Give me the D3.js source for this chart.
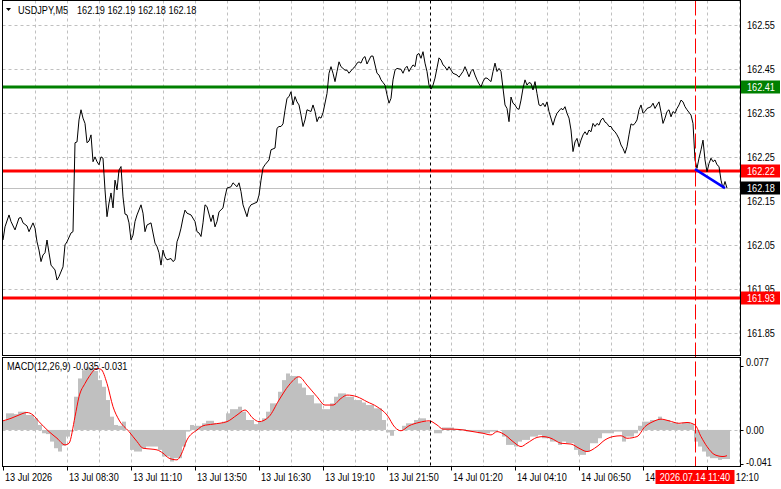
<!DOCTYPE html>
<html>
<head>
<meta charset="utf-8">
<script src="https://cdn.jsdelivr.net/npm/d3@7"></script>
<style>
  body { margin: 0; background: #fff; }
  svg { display: block; font-family: "Liberation Sans", Arial, sans-serif; }
</style>
</head>
<body>
<div id="chart"></div>
<script>
// USDJPY M5 close prices, keyed by bar index (bar 0 = first visible bar)
const priceBars = [0,1,3,4,6,8,9,10,12,13,15,16,17,18,19,20,21,22,23,24,26,27,28,30,31,32,34,35,36,37,38,39,40,41,42,43,44,45,46,47,48,49,50,
  51,52,53,54,55,56,57,58,59,60,61,62,63,64,65,66,67,69,70,71,72,74,76,77,78,79,80,81,82,84,85,86,87,88,89,90,91,92,94,96,97,98,99,100,
  101,102,104,105,106,107,108,110,111,112,114,115,117,118,119,120,122,123,124,126,127,128,129,130,131,133,134,136,137,138,139,140,
  141,142,143,144,145,146,147,148,149,150,151,152,154,155,156,157,158,159,160,162,163,164,165,166,167,168,169,171,172,173,175,176,177,178,179,180,
  181,182,183,184,185,187,188,189,190,191,192,193,194,195,196,197,199,200,201,202,203,204,205,206,207,208,209,210,211,212,213,214,215,216,217,218,219,220,
  221,222,223,225,227,228,230,231,232,233,234,235,236,237,238,239,240,241,242,244,245,246,247,248,249,250,251,252,253,254,255,256,257,258,259,260,
  261,262,263,264,265,266,267,268,269,270,271,272,273,275,276,277,279,280,281,282,283,284,285,286,287,288,289,290,291,292,293,294,295,296,297,298,299,300,
  301,302,303,304,305,306,307,308,309,310,311,312,313,314,315,316,317,318,319,320,321,322,324,325,326,327,328,329,330,331,332,333,334,335,336,337,338,339,340,
  341,342,344,345,346,347,348,349,350,351,352,353,354,355,356,357,358,359,360,361,362];
const priceClose = [162.062,162.092,162.119,162.104,162.085,162.112,162.113,162.101,162.094,162.081,162.101,162.089,162.058,162.039,162.013,162.028,162.033,162.062,162.033,162.005,161.994,161.971,161.979,162.001,162.051,162.058,162.078,162.081,162.283,162.285,162.335,162.358,162.339,162.327,162.283,162.287,162.301,162.240,162.251,162.240,162.233,162.251,162.248,
  162.176,162.115,162.146,162.169,162.135,162.198,162.176,162.221,162.229,162.160,162.121,162.119,162.101,162.062,162.073,162.104,162.119,162.142,162.123,162.081,162.096,162.101,162.055,162.047,162.033,162.005,162.039,162.024,162.017,162.020,162.013,162.017,162.058,162.071,162.089,162.112,162.130,162.123,162.119,162.104,162.081,162.078,162.070,162.101,
  162.142,162.138,162.104,162.119,162.092,162.104,162.126,162.135,162.160,162.180,162.183,162.192,162.183,162.192,162.172,162.142,162.115,162.135,162.142,162.146,162.148,162.164,162.198,162.226,162.233,162.244,162.267,162.271,162.316,162.320,162.320,162.326,
  162.357,162.384,162.388,162.399,162.369,162.388,162.376,162.369,162.346,162.320,162.335,162.358,162.354,162.369,162.354,162.331,162.342,162.339,162.351,162.395,162.441,162.456,162.441,162.422,162.445,162.467,162.456,162.448,162.448,162.441,162.452,162.456,162.464,162.467,162.464,162.475,
  162.479,162.462,162.471,162.480,162.480,162.441,162.437,162.426,162.420,162.414,162.392,162.373,162.384,162.426,162.448,162.452,162.450,162.441,162.452,162.457,162.445,162.453,162.460,162.456,162.483,162.486,162.475,162.490,162.464,162.445,162.414,162.405,162.414,162.430,162.453,162.476,162.471,162.460,
  162.456,162.448,162.456,162.441,162.437,162.432,162.445,162.456,162.445,162.433,162.445,162.450,162.437,162.426,162.417,162.410,162.422,162.430,162.430,162.422,162.445,162.464,162.445,162.452,162.445,162.407,162.369,162.361,162.331,162.387,162.373,162.369,162.361,162.359,162.380,162.407,
  162.426,162.414,162.420,162.418,162.403,162.422,162.395,162.369,162.367,162.373,162.365,162.376,162.354,162.323,162.339,162.350,162.361,162.358,162.365,162.350,162.339,162.312,162.263,162.285,162.293,162.274,162.289,162.301,162.308,162.301,162.312,162.308,162.327,162.320,162.327,162.323,162.335,162.339,
  162.330,162.327,162.320,162.320,162.312,162.308,162.301,162.292,162.278,162.270,162.259,162.274,162.301,162.326,162.323,162.327,162.335,162.358,162.369,162.350,162.354,162.361,162.365,162.373,162.361,162.369,162.376,162.353,162.327,162.339,162.354,162.358,162.342,162.354,162.350,162.361,162.369,162.380,162.376,
  162.365,162.358,162.346,162.327,162.244,162.225,162.248,162.267,162.289,162.244,162.217,162.236,162.248,162.240,162.244,162.233,162.229,162.198,162.180,162.195,162.180];

// MACD(12,26,9) main histogram, one value for every pair of bars (bars 0-1, 2-3, ...)
const macdHist = [0.011,0.020,0.020,0.019,0.022,0.022,0.018,0.018,0.014,0.006,-0.004,-0.005,-0.014,-0.022,-0.026,-0.019,-0.008,-0.002,0.040,0.062,
  0.072,0.076,0.075,0.071,0.060,0.052,0.036,0.016,0.006,0.005,0.010,0,-0.024,-0.026,-0.026,-0.022,-0.020,-0.020,-0.020,-0.024,
  -0.032,-0.032,-0.038,-0.034,-0.034,-0.020,-0.002,0.006,0.005,0.005,0.008,0.011,0.011,0.008,0.008,0.010,0.020,0.025,0.025,0.028,
  0.022,0.012,0.012,0.007,0.010,0.014,0.022,0.032,0.032,0.046,0.060,0.068,0.065,0.065,0.056,0.051,0.042,0.042,0.032,0.032,
  0.025,0.025,0.032,0.040,0.044,0.044,0.040,0.040,0.036,0.036,0.033,0.030,0.030,0.026,0.026,0.012,-0.003,-0.007,0,0,
  0.005,0.008,0.008,0.012,0.014,0.014,0.010,0,-0.004,-0.004,0.003,0.003,0.003,0.001,0.001,0.001,-0.002,-0.002,-0.002,-0.004,
  -0.004,-0.004,-0.002,-0.002,0,-0.008,-0.018,-0.018,-0.020,-0.014,-0.012,-0.012,-0.008,-0.008,-0.006,-0.010,-0.010,-0.014,-0.014,-0.018,
  -0.014,-0.016,-0.016,-0.024,-0.030,-0.030,-0.026,-0.016,-0.016,-0.010,-0.004,-0.004,-0.004,-0.002,-0.002,-0.014,-0.008,-0.008,-0.004,0.005,
  0.010,0.010,0.012,0.012,0.016,0.012,0.012,0.009,0.009,0.007,0.009,0.009,0.007,-0.014,-0.020,-0.026,-0.032,-0.034,-0.034,-0.036,
  -0.035,-0.035];

// MACD signal line
const signalBars = [0,4,8,12,15,18,23,27,31,33,36,38,41,43,47,49,52,55,58,63,67,70,74,77,80,83,87,89,92,97,100,105,112,117,121,125,128,133,138,143,
  148,152,157,161,165,169,172,177,182,187,192,196,199,203,208,213,217,220,225,230,235,240,244,247,251,255,259,262,267,270,274,279,284,288,292,297,
  301,305,309,312,317,321,325,329,333,338,342,346,349,352,356,360,362];
const signalValues = [0.011,0.014,0.018,0.021,0.018,0.010,-0.002,-0.010,-0.018,-0.016,0.016,0.040,0.056,0.064,0.074,0.073,0.056,0.028,0.012,-0.002,
  -0.014,-0.022,-0.023,-0.024,-0.028,-0.034,-0.036,-0.030,-0.012,0,0.005,0.007,0.010,0.018,0.024,0.014,0.010,0.016,0.036,0.054,
  0.064,0.054,0.040,0.030,0.030,0.038,0.042,0.040,0.034,0.028,0.018,0.003,-0.001,0.005,0.009,0.011,0.006,0.001,0.001,0,
  -0.002,-0.004,-0.006,-0.002,-0.006,-0.014,-0.020,-0.016,-0.009,-0.008,-0.010,-0.016,-0.017,-0.022,-0.026,-0.020,
  -0.012,-0.008,-0.007,-0.010,-0.008,0.004,0.010,0.013,0.011,0.008,0.009,0.006,-0.008,-0.020,-0.030,-0.032,-0.031];

const timeTickBars = [0,32,64,96,128,160,192,224,256,288,320,352];
const timeTickLabels = ['13 Jul 2026','13 Jul 08:30','13 Jul 11:10','13 Jul 13:50','13 Jul 16:30','13 Jul 19:10',
  '13 Jul 21:50','14 Jul 01:20','14 Jul 04:10','14 Jul 06:50','14 Jul 09:30','14 Jul 12:10'];
const priceTicks = [162.55,162.45,162.35,162.25,162.15,162.05,161.95,161.85];
const macdTicks = [0.077,0.00,-0.041];
const macdTickLabels = ['0.077','0.00','-0.041'];

const levelPrices = [162.41,162.22,161.93];
const bidPrice = 162.18;
const trendBars = [346,361];
const trendPrices = [162.223,162.180];
const markerBar = 346;      // red vertical line
const cursorBar = 213.5;    // black dotted line
const markerLabel = '2026.07.14 11:40';
const headerSymbol = 'USDJPY,M5';
const headerPrices = '162.19 162.19 162.18 162.18';
const macdTitle = 'MACD(12,26,9) -0.035 -0.031';

const levelColors = { 162.41: '#008000', 162.22: '#ff0000', 161.93: '#ff0000' };

const W = 781, H = 489;
const L = 2.5, R = 740.5;
const mainTop = 0.5, mainBottom = 355.5;
const macdTop = 357.5, macdBottom = 466.5;
const gridColor = '#c0c0c0';
const crisp = v => Math.round(v) + 0.5;

const svg = d3.select('#chart').append('svg')
  .attr('width', W).attr('height', H);

svg.append('rect').attr('width', W).attr('height', H).attr('fill', '#fff');

const x = d3.scaleLinear().domain([0, 368.5]).range([3, 740]);
const y = d3.scaleLinear().domain([161.85, 162.55]).range([333.3, 25.3]);
const ym = d3.scaleLinear().domain([-0.041, 0.077]).range([464, 366]);

// clip paths for panels
const defs = svg.append('defs');
defs.append('clipPath').attr('id', 'clipMain').append('rect')
  .attr('x', L).attr('y', mainTop).attr('width', R - L).attr('height', mainBottom - mainTop);
defs.append('clipPath').attr('id', 'clipMacd').append('rect')
  .attr('x', L).attr('y', macdTop).attr('width', R - L).attr('height', macdBottom - macdTop);

const main = svg.append('g').attr('clip-path', 'url(#clipMain)');
const macd = svg.append('g').attr('clip-path', 'url(#clipMacd)');

// vertical grid every 16 bars
const vGrid = d3.range(16, 369, 16);
[[main, mainTop, mainBottom], [macd, macdTop, macdBottom]].forEach(([g, t, b]) => {
  g.selectAll('.vgrid').data(vGrid).enter().append('line')
    .attr('class', 'vgrid')
    .attr('x1', d => crisp(x(d))).attr('x2', d => crisp(x(d)))
    .attr('y1', t).attr('y2', b)
    .attr('stroke', gridColor).attr('stroke-dasharray', '3,3');
});

// horizontal price grid
main.selectAll('.hgrid').data(priceTicks).enter().append('line')
  .attr('class', 'hgrid')
  .attr('x1', L).attr('x2', R)
  .attr('y1', d => crisp(y(d))).attr('y2', d => crisp(y(d)))
  .attr('stroke', gridColor).attr('stroke-dasharray', '3,3');

// MACD zero line
macd.append('line')
  .attr('x1', L).attr('x2', R)
  .attr('y1', crisp(ym(0))).attr('y2', crisp(ym(0)))
  .attr('stroke', gridColor).attr('stroke-dasharray', '3,3');

// bid line
main.append('line')
  .attr('x1', L).attr('x2', R)
  .attr('y1', crisp(y(bidPrice))).attr('y2', crisp(y(bidPrice)))
  .attr('stroke', '#c0c0c0');

// horizontal levels
main.selectAll('.level').data(levelPrices).enter().append('line')
  .attr('class', 'level')
  .attr('x1', L).attr('x2', R)
  .attr('y1', d => Math.round(y(d))).attr('y2', d => Math.round(y(d)))
  .attr('stroke', d => levelColors[d]).attr('stroke-width', 3);

// price line
const priceData = priceBars.map((b, i) => [b, priceClose[i]]);
main.append('path')
  .datum(priceData)
  .attr('fill', 'none').attr('stroke', '#000').attr('stroke-width', 1)
  .attr('d', d3.line().x(d => x(d[0])).y(d => y(d[1])));

// trend line
main.append('line')
  .attr('x1', x(trendBars[0])).attr('y1', y(trendPrices[0]))
  .attr('x2', x(trendBars[1])).attr('y2', y(trendPrices[1]))
  .attr('stroke', '#0000ff').attr('stroke-width', 2.5);

// MACD histogram
macd.selectAll('.hist').data(macdHist).enter().append('rect')
  .attr('class', 'hist')
  .attr('x', (d, k) => x(2 * k) - 1)
  .attr('width', x(2) - x(0))
  .attr('y', d => ym(Math.max(d, 0)))
  .attr('height', d => Math.abs(ym(d) - ym(0)))
  .attr('fill', '#c0c0c0');

// signal line
const signalData = signalBars.map((b, i) => [b, signalValues[i]]);
macd.append('path')
  .datum(signalData)
  .attr('fill', 'none').attr('stroke', '#ff0000').attr('stroke-width', 1)
  .attr('d', d3.line().x(d => x(d[0])).y(d => ym(d[1])).curve(d3.curveMonotoneX));

// vertical cursor lines across both panels
svg.append('line')
  .attr('x1', crisp(x(cursorBar))).attr('x2', crisp(x(cursorBar)))
  .attr('y1', mainTop).attr('y2', macdBottom)
  .attr('stroke', '#000').attr('stroke-dasharray', '3,3');
svg.append('line')
  .attr('x1', crisp(x(markerBar))).attr('x2', crisp(x(markerBar)))
  .attr('y1', mainTop).attr('y2', macdBottom)
  .attr('stroke', '#ff0000').attr('stroke-dasharray', '15,4');

// panel frames
svg.append('rect').attr('x', L).attr('y', mainTop).attr('width', R - L).attr('height', mainBottom - mainTop)
  .attr('fill', 'none').attr('stroke', '#000');
svg.append('rect').attr('x', L).attr('y', macdTop).attr('width', R - L).attr('height', macdBottom - macdTop)
  .attr('fill', 'none').attr('stroke', '#000');

// right price labels
svg.selectAll('.plabel').data(priceTicks).enter().append('text')
  .attr('class', 'plabel')
  .attr('x', 747).attr('y', d => y(d) + 4)
  .attr('font-size', 11).attr('fill', '#000')
  .text(d => d.toFixed(2));

// level tags
const tags = levelPrices.map(p => ({ p, color: levelColors[p] })).concat([{ p: bidPrice, color: '#000' }]);
const tag = svg.selectAll('.tag').data(tags).enter().append('g').attr('class', 'tag');
tag.append('rect')
  .attr('x', 741).attr('y', d => Math.round(y(d.p)) - 6.5)
  .attr('width', 39).attr('height', 13)
  .attr('fill', d => d.color);
tag.append('text')
  .attr('x', 747).attr('y', d => Math.round(y(d.p)) + 4)
  .attr('font-size', 11).attr('fill', '#fff')
  .text(d => d.p.toFixed(2));

// MACD right labels
svg.selectAll('.mlabel').data(macdTicks).enter().append('text')
  .attr('class', 'mlabel')
  .attr('x', 746).attr('y', (d, i) => [ym(d) - 0.5, ym(d) + 4, ym(d) + 1.5][i])
  .attr('font-size', 11).attr('fill', '#000')
  .text((d, i) => macdTickLabels[i]);
svg.selectAll('.mtick').data(macdTicks).enter().append('line')
  .attr('x1', R).attr('x2', R + 3)
  .attr('y1', d => crisp(ym(d))).attr('y2', d => crisp(ym(d)))
  .attr('stroke', '#000');

// bottom time axis
svg.selectAll('.ttick').data(timeTickBars).enter().append('line')
  .attr('x1', d => crisp(x(d))).attr('x2', d => crisp(x(d)))
  .attr('y1', macdBottom).attr('y2', macdBottom + 4)
  .attr('stroke', '#000');
svg.selectAll('.tlabel').data(timeTickBars).enter().append('text')
  .attr('x', d => x(d) + 2).attr('y', 481)
  .attr('font-size', 11).attr('fill', '#000')
  .text((d, i) => timeTickLabels[i]);

// marker time tag
const mx = x(markerBar);
svg.append('rect').attr('x', mx - 39.5).attr('y', 470).attr('width', 79).attr('height', 14).attr('fill', '#ff0000');
svg.append('text').attr('x', mx).attr('y', 481).attr('text-anchor', 'middle')
  .attr('font-size', 11).attr('fill', '#fff').text(markerLabel);

// header
svg.append('path').attr('d', 'M6,8 L11,8 L8.5,11 Z').attr('fill', '#000');
svg.append('text').attr('x', 18).attr('y', 14).attr('font-size', 11).attr('fill', '#000').text(headerSymbol);
svg.append('text').attr('x', 77).attr('y', 14).attr('font-size', 11).attr('fill', '#000').text(headerPrices);

// MACD title
svg.append('text').attr('x', 7).attr('y', 370).attr('font-size', 11).attr('fill', '#000').text(macdTitle);

// terminal font is narrower than Liberation Sans: squeeze glyphs horizontally
svg.selectAll('text').each(function () {
  const w = this.getComputedTextLength();
  d3.select(this).attr('textLength', (w * 0.83).toFixed(1)).attr('lengthAdjust', 'spacingAndGlyphs');
});
</script>
</body>
</html>
